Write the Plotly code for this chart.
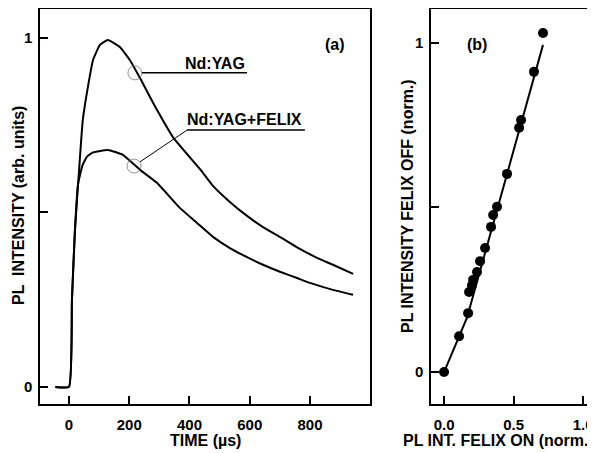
import plotly.graph_objects as go
from plotly.subplots import make_subplots

# ------------------------------
# (a) PL transients
# ------------------------------
t_yag = [-45, 0, 10, 20, 36, 46, 63, 80, 103, 129, 169, 202, 236, 269, 292, 345,
         435, 478, 534, 591, 644, 700, 757, 823, 876, 943]
pl_yag = [0, 0, 0.25, 0.45, 0.65, 0.765, 0.86, 0.937, 0.98, 0.994, 0.974, 0.937,
          0.885, 0.831, 0.794, 0.716, 0.624, 0.576, 0.530, 0.490, 0.458, 0.430,
          0.400, 0.37, 0.35, 0.324]

t_felix = [-45, 0, 10, 20, 30, 45, 60, 80, 129, 179, 236, 292, 368, 425, 478, 534,
           591, 644, 700, 757, 800, 876, 943]
pl_felix = [0, 0, 0.25, 0.45, 0.58, 0.635, 0.66, 0.672, 0.679, 0.665, 0.622, 0.585,
            0.513, 0.47, 0.43, 0.398, 0.372, 0.35, 0.33, 0.312, 0.298, 0.278, 0.264]

# ------------------------------
# (b) FELIX on vs off
# ------------------------------
felix_on = [0.0, 0.108, 0.173, 0.18, 0.201, 0.209, 0.237, 0.259, 0.295, 0.338, 0.353,
            0.381, 0.453, 0.54, 0.554, 0.647, 0.712]
felix_off = [0.0, 0.109, 0.179, 0.243, 0.264, 0.28, 0.304, 0.337, 0.377, 0.441, 0.477,
             0.502, 0.602, 0.742, 0.766, 0.912, 1.03]
fit_on = [0.0, 0.108, 0.165, 0.712]
fit_off = [0.0, 0.109, 0.165, 0.994]

FONT = "Liberation Sans, Arial, sans-serif"
# the page body has an 8px margin, so the figure is drawn 8px in and 8px smaller
OX, OY = 8, 8
W, H = 595 - OX, 453 - OY


def px(x):
    return (x - OX) / W


def py(y):
    return 1 - (y - OY) / H


fig = make_subplots(rows=1, cols=2)

fig.add_trace(go.Scatter(x=t_yag, y=pl_yag, mode="lines", line_shape="spline",
                         line=dict(color="black", width=2, smoothing=0.4)), row=1, col=1)
fig.add_trace(go.Scatter(x=t_felix, y=pl_felix, mode="lines", line_shape="spline",
                         line=dict(color="black", width=2, smoothing=0.4)), row=1, col=1)
fig.add_trace(go.Scatter(x=fit_on, y=fit_off, mode="lines",
                         line=dict(color="black", width=2)), row=1, col=2)
fig.add_trace(go.Scatter(x=felix_on, y=felix_off, mode="markers",
                         marker=dict(color="black", size=10)), row=1, col=2)

axis_style = dict(showline=True, linecolor="black", linewidth=1.5, mirror=True,
                  ticks="inside", ticklen=8, tickwidth=1.5, tickcolor="black",
                  showgrid=False, zeroline=False, automargin=False,
                  tickfont=dict(family=FONT, size=15, color="black", weight="bold"))

fig.update_xaxes(axis_style, ticklabelstandoff=6)
fig.update_yaxes(axis_style, ticklabelstandoff=3)

fig.update_xaxes(domain=[px(40), px(370)], range=[-96, 999],
                 tickvals=[0, 200, 400, 600, 800], ticktext=["0", "200", "400", "600", "800"],
                 row=1, col=1)
fig.update_yaxes(domain=[py(404), py(9)], range=[-0.049, 1.083],
                 tickvals=[0, 0.5, 1], ticktext=["0", "", "1"], row=1, col=1)
fig.update_xaxes(domain=[px(431), 1.0], range=[-0.094, 1.086],
                 tickvals=[0, 0.5, 1.0], ticktext=["0.0", "0.5", "1.0"], row=1, col=2)
fig.update_yaxes(domain=[py(404), py(9)], range=[-0.097, 1.103],
                 tickvals=[0, 0.5, 1], ticktext=["0", "", "1"], row=1, col=2)

# leader lines and circles in panel (a)
shapes = []
for cx, cy in [(219, 0.90), (216, 0.633)]:
    shapes.append(dict(type="circle", xref="x", yref="y", xsizemode="pixel", ysizemode="pixel",
                       xanchor=cx, yanchor=cy, x0=-7, x1=7, y0=-7, y1=7,
                       line=dict(color="#777777", width=0.8)))
shapes.append(dict(type="line", xref="x", yref="y", x0=242, x1=591, y0=0.90, y1=0.90,
                   line=dict(color="black", width=1.5)))
shapes.append(dict(type="line", xref="x", yref="y", x0=392, x1=783, y0=0.736, y1=0.736,
                   line=dict(color="black", width=1.5)))
shapes.append(dict(type="line", xref="x", yref="y", x0=236, x1=392, y0=0.645, y1=0.736,
                   line=dict(color="black", width=1)))


def label(text, x, y, xref="paper", yref="paper", angle=0):
    return dict(x=x, y=y, xref=xref, yref=yref, text="<b>%s</b>" % text, showarrow=False,
                xanchor="center", yanchor="middle", textangle=angle,
                font=dict(family=FONT, size=16, color="black"))


annots = [
    label("Nd:YAG", 485, 0.928, "x", "y"),
    label("Nd:YAG+FELIX", 581, 0.765, "x", "y"),
    label("(a)", 883, 0.98, "x", "y"),
    label("(b)", 0.237, 0.994, "x2", "y2"),
    label("TIME (µs)", px(205), py(440)),
    label("PL INT. FELIX ON (norm.)", px(498), py(440)),
    label("PL  INTENSITY (arb. units)", px(18), py(206), angle=-90),
    label("PL INTENSITY FELIX OFF (norm.)", px(407), py(206), angle=-90),
]

fig.update_layout(width=W, height=H, margin=dict(l=0, r=0, t=0, b=0),
                  paper_bgcolor="white", plot_bgcolor="white", showlegend=False,
                  shapes=shapes, annotations=annots)

fig.write_html("out.html")
